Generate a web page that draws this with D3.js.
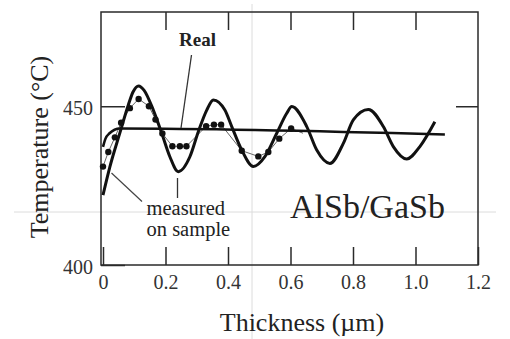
<!DOCTYPE html>
<html>
<head>
<meta charset="utf-8">
<script src="https://cdn.jsdelivr.net/npm/d3@7/dist/d3.min.js"></script>
<style>
  html, body { margin: 0; padding: 0; background: #fff; }
  svg { display: block; }
</style>
</head>
<body>
<svg id="chart" width="510" height="339" font-family="Liberation Serif, Times New Roman, serif"></svg>
<script>
// Oscillating growth-temperature curve (thickness µm, temperature °C)
const oscThickness = [0.0, 0.022, 0.054, 0.081, 0.096, 0.114, 0.131, 0.161, 0.188, 0.214, 0.241,
  0.278, 0.305, 0.332, 0.353, 0.390, 0.412, 0.444, 0.481, 0.518, 0.556, 0.588, 0.604,
  0.652, 0.684, 0.726, 0.769, 0.801, 0.849, 0.897, 0.929, 0.972, 1.014, 1.062];
const oscTemp = [422.0, 430.9, 441.6, 450.4, 454.5, 456.4, 455.1, 448.8, 441.5, 434.1, 429.4,
  434.1, 442.0, 448.8, 452.0, 448.8, 443.6, 436.2, 431.0, 434.1, 441.5, 447.8, 449.9,
  443.6, 436.2, 432.0, 438.3, 445.7, 449.0, 443.6, 437.3, 433.4, 437.3, 445.1];

// Nearly flat curve
const flatThickness = [0.0, 0.008, 0.02, 0.054, 1.094];
const flatTemp = [437.2, 439.8, 441.4, 443.0, 441.1];

// Measured points on the sample
const measThickness = [0.0, 0.017, 0.038, 0.058, 0.086, 0.114, 0.147, 0.168, 0.190, 0.222, 0.246, 0.267,
  0.330, 0.355, 0.378, 0.444, 0.497, 0.529, 0.564, 0.602, 0.640];
const measTemp = [431.0, 435.6, 440.2, 444.8, 449.4, 452.3, 450.0, 445.8, 441.4, 437.4, 437.4, 437.4,
  443.7, 444.2, 444.2, 436.0, 434.2, 435.6, 439.8, 443.0, 441.5];
// which measured points carry a marker (the last one only ends the line)
const measMarked = [1,1,1,1,1,1,1,1,1,1,1,1,1,1,1,1,1,1,1,1,0];

// Axis ticks
const xTicks = [0, 0.2, 0.4, 0.6, 0.8, 1.0, 1.2];
const xTickLabels = ["0", "0.2", "0.4", "0.6", "0.8", "1.0", "1.2"];
const yTicks = [400, 450];
const yTickLabels = ["400", "450"];

const SERIF = "Liberation Serif, Times New Roman, serif";
const svg = d3.select("#chart");

const x = d3.scaleLinear().domain([0, 1.2]).range([103, 478]);
const y = d3.scaleLinear().domain([400, 480]).range([265, 11]);

const frameLeft = 101, frameRight = 478, frameTop = 12, frameBottom = 265;

// faint fold lines of the printed page
svg.append("line").attr("x1", 252).attr("x2", 252).attr("y1", 4).attr("y2", 339)
  .attr("stroke", "#dcdcdc").attr("stroke-width", 1);
svg.append("line").attr("x1", 14).attr("x2", 496).attr("y1", 212).attr("y2", 212)
  .attr("stroke", "#dcdcdc").attr("stroke-width", 1);

// frame
svg.append("rect")
  .attr("x", frameLeft).attr("y", frameTop)
  .attr("width", frameRight - frameLeft).attr("height", frameBottom - frameTop)
  .attr("fill", "none").attr("stroke", "#2a2a2a").attr("stroke-width", 1.5);

// bottom axis with inward ticks
const xAxis = d3.axisBottom(x).tickValues(xTicks)
  .tickFormat((d, i) => xTickLabels[i]).tickSizeInner(-18).tickSizeOuter(0).tickPadding(10);
const gx = svg.append("g").attr("transform", `translate(0,${frameBottom})`).call(xAxis)
  .attr("font-family", SERIF).attr("font-size", 20);
gx.select(".domain").remove();
gx.selectAll(".tick line").attr("stroke", "#2a2a2a").attr("stroke-width", 1.5);
gx.selectAll(".tick text").attr("fill", "#333");

// top axis, ticks only
const xTop = d3.axisTop(x).tickValues(xTicks.slice(1, -1)).tickFormat("").tickSizeInner(-18).tickSizeOuter(0);
const gxt = svg.append("g").attr("transform", `translate(0,${frameTop})`).call(xTop);
gxt.select(".domain").remove();
gxt.selectAll(".tick line").attr("stroke", "#2a2a2a").attr("stroke-width", 1.5);

// left axis
const yAxis = d3.axisLeft(y).tickValues(yTicks)
  .tickFormat((d, i) => yTickLabels[i]).tickSizeInner(-24).tickSizeOuter(0).tickPadding(8);
const gy = svg.append("g").attr("transform", `translate(${frameLeft},0)`).call(yAxis)
  .attr("font-family", SERIF).attr("font-size", 20);
gy.select(".domain").remove();
gy.selectAll(".tick line").attr("stroke", "#2a2a2a").attr("stroke-width", 1.5);
gy.selectAll(".tick text").attr("fill", "#333").attr("dy", "0.4em");

// right axis, ticks only
const yRight = d3.axisRight(y).tickValues([450]).tickFormat("").tickSizeInner(-22).tickSizeOuter(0);
const gyr = svg.append("g").attr("transform", `translate(${frameRight},0)`).call(yRight);
gyr.select(".domain").remove();
gyr.selectAll(".tick line").attr("stroke", "#2a2a2a").attr("stroke-width", 1.5);

// axis titles
svg.append("text").attr("x", 302).attr("y", 331).attr("text-anchor", "middle")
  .attr("font-size", 26).attr("fill", "#222").text("Thickness (µm)");
svg.append("text").attr("transform", "translate(48,147) rotate(-90)").attr("text-anchor", "middle")
  .attr("font-size", 26).attr("fill", "#222").text("Temperature (°C)");

// curves
const line = (xs, ys, curve) => d3.line()
  .x(i => x(xs[i])).y(i => y(ys[i])).curve(curve)(d3.range(xs.length));

// measured series: thin connecting line + dots
svg.append("path").attr("d", line(measThickness, measTemp, d3.curveLinear))
  .attr("fill", "none").attr("stroke", "#666").attr("stroke-width", 1);

svg.append("path").attr("d", line(flatThickness, flatTemp, d3.curveMonotoneX))
  .attr("fill", "none").attr("stroke", "#111").attr("stroke-width", 2.6);

svg.append("path").attr("d", line(oscThickness, oscTemp, d3.curveMonotoneX))
  .attr("fill", "none").attr("stroke", "#111").attr("stroke-width", 3)
  .attr("stroke-linejoin", "round");

svg.append("g").selectAll("circle")
  .data(d3.range(measThickness.length).filter(i => measMarked[i]))
  .join("circle")
  .attr("cx", i => x(measThickness[i])).attr("cy", i => y(measTemp[i]))
  .attr("r", 3.2).attr("fill", "#111");

// annotations
svg.append("text").attr("x", 197.5).attr("y", 46).attr("text-anchor", "middle")
  .attr("font-size", 19).attr("font-weight", "bold").attr("fill", "#222").text("Real");
svg.append("line").attr("x1", 191.5).attr("y1", 55).attr("x2", 181).attr("y2", 128)
  .attr("stroke", "#333").attr("stroke-width", 1.3);

svg.append("text").attr("x", 146.5).attr("y", 215).attr("font-size", 20.5).attr("fill", "#222").text("measured");
svg.append("text").attr("x", 146.5).attr("y", 236).attr("font-size", 20.5).attr("fill", "#222").text("on sample");
svg.append("line").attr("x1", 111.5).attr("y1", 173).attr("x2", 142).attr("y2", 201.5)
  .attr("stroke", "#444").attr("stroke-width", 1.2);
svg.append("line").attr("x1", 177.5).attr("y1", 178).attr("x2", 177.5).attr("y2", 198)
  .attr("stroke", "#333").attr("stroke-width", 1.3);

svg.append("text").attr("x", 290).attr("y", 218).attr("font-size", 34).attr("fill", "#222").text("AlSb/GaSb");
</script>
</body>
</html>
